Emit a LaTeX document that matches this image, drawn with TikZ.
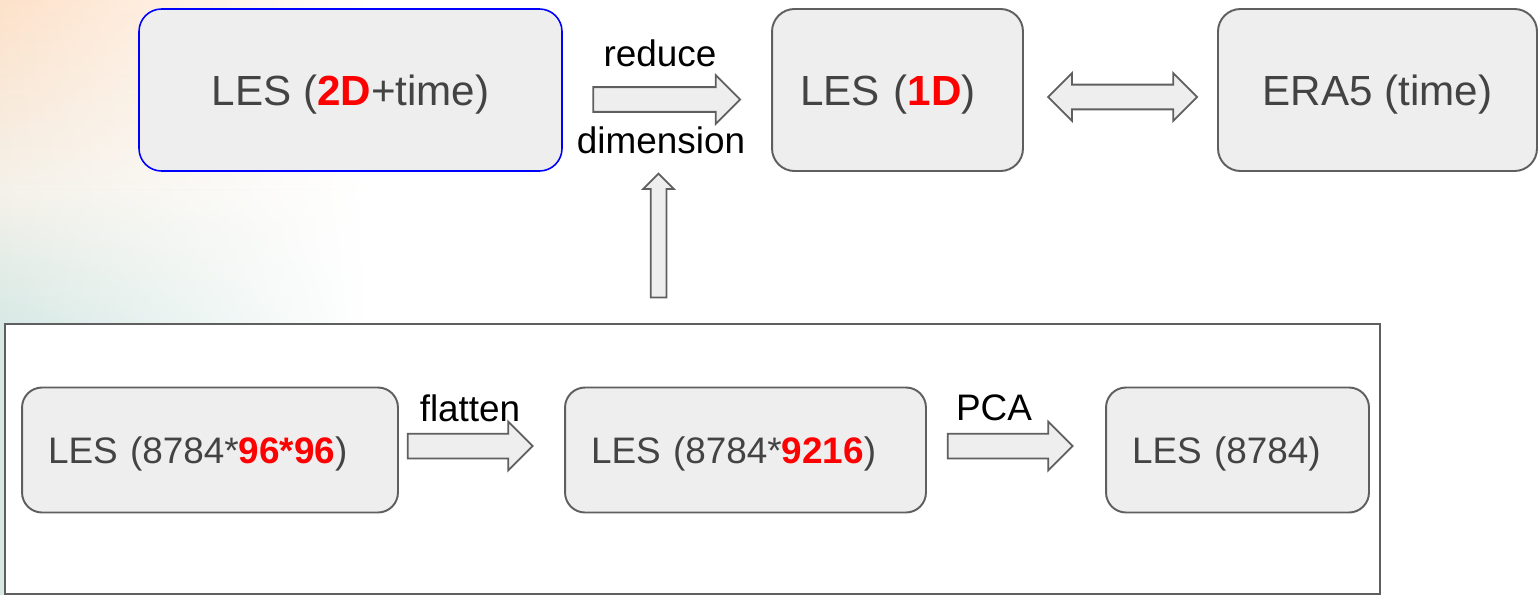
\documentclass[tikz,border=0pt]{standalone}
\usepackage{fontspec}
\setmainfont{Liberation Sans}
\usetikzlibrary{shapes.arrows,fadings}
\definecolor{boxfill}{HTML}{EEEEEE}
\definecolor{boxline}{HTML}{5F5F5F}
\definecolor{boxtext}{HTML}{434343}
\definecolor{hot}{HTML}{FF0000}
\definecolor{peach}{HTML}{FDE1C9}
\definecolor{cream}{HTML}{F4F1E9}
\definecolor{mint}{HTML}{D8E9E5}
\newcommand{\hl}[1]{\textcolor{hot}{\textbf{#1}}}
\tikzset{
  box/.style={draw=boxline, fill=boxfill, line width=1.1pt, rounded corners=0.45cm,
    text=boxtext, font=\fontsize{24}{28}\selectfont, text depth=0pt,
    minimum height=162*0.02cm},
  lowbox/.style={box, rounded corners=0.4cm, font=\fontsize{21}{25}\selectfont,
    minimum height=125*0.02cm, align=left, inner xsep=0.52cm},
  blockarrow/.style={single arrow, draw=boxline, fill=boxfill, line width=1pt,
    inner xsep=0pt, inner ysep=0.23cm, single arrow head extend=12*0.02cm},
  steptext/.style={font=\fontsize{21}{25}\selectfont},
  glow/.style={path fading=east}
}

\begin{document}
\begin{tikzpicture}[x=0.02cm, y=-0.02cm]

  \useasboundingbox (0,0) rectangle (1538,595);
  % soft background in the corner
  \shade[glow, top color=peach, bottom color=cream] (0,0) rectangle (370,190);
  \shade[glow, top color=cream, bottom color=mint] (0,190) rectangle (370,320);
  \fill[glow, mint] (0,320) rectangle (370,595);

  % top row
  \node[box, draw=blue, line width=0.9pt, minimum width=423*0.02cm] (les2d) at (350.5,90) {LES (\hl{2D}+time)};
  \node[box, align=left, inner xsep=0.56cm, text width=3.9cm] (les1d) at (897.5,90) {LES (\hl{1D})};
  \node[box, minimum width=319*0.02cm] (era5) at (1377.5,90) {ERA5 (time)};

  \node[blockarrow, minimum height=147*0.02cm] (reduce) at (660.5,99.5) {};
  \node[double arrow, draw=boxline, fill=boxfill, line width=1pt, inner xsep=0pt,
    inner ysep=0.23cm, double arrow head extend=11.5*0.02cm,
    minimum height=149*0.02cm] (link) at (1122.5,97) {};

  \node[steptext] (reducetxt) at (660,53) {reduce};
  \node[steptext] (dimtxt) at (661,140) {dimension};

  % lower frame with the pipeline
  \node[draw=boxline, line width=1.1pt, fill=white, inner sep=0pt,
    minimum width=1375*0.02cm, minimum height=270*0.02cm] (frame) at (692.5,459) {};

  \node[blockarrow, rotate=90, minimum height=124*0.02cm, inner ysep=0.14cm,
    single arrow head extend=7.5*0.02cm] (up) at (658.5,239.5) {};

  \node[lowbox, text width=6.48cm] (lesfull) at (210,450) {LES (8784*\hl{96*96})};
  \node[lowbox, text width=6.18cm] (lesflat) at (745.5,450) {LES (8784*\hl{9216})};
  \node[lowbox, text width=4.22cm] (lespca) at (1237.5,450) {LES (8784)};

  \node[blockarrow, minimum height=125*0.02cm] (flat) at (464,446) {};
  \node[blockarrow, minimum height=125*0.02cm] (pca) at (1004,446) {};

  \node[steptext] (flattxt) at (470,408) {flatten};
  \node[steptext] (pcatxt) at (994,408) {PCA};

\end{tikzpicture}
\end{document}
